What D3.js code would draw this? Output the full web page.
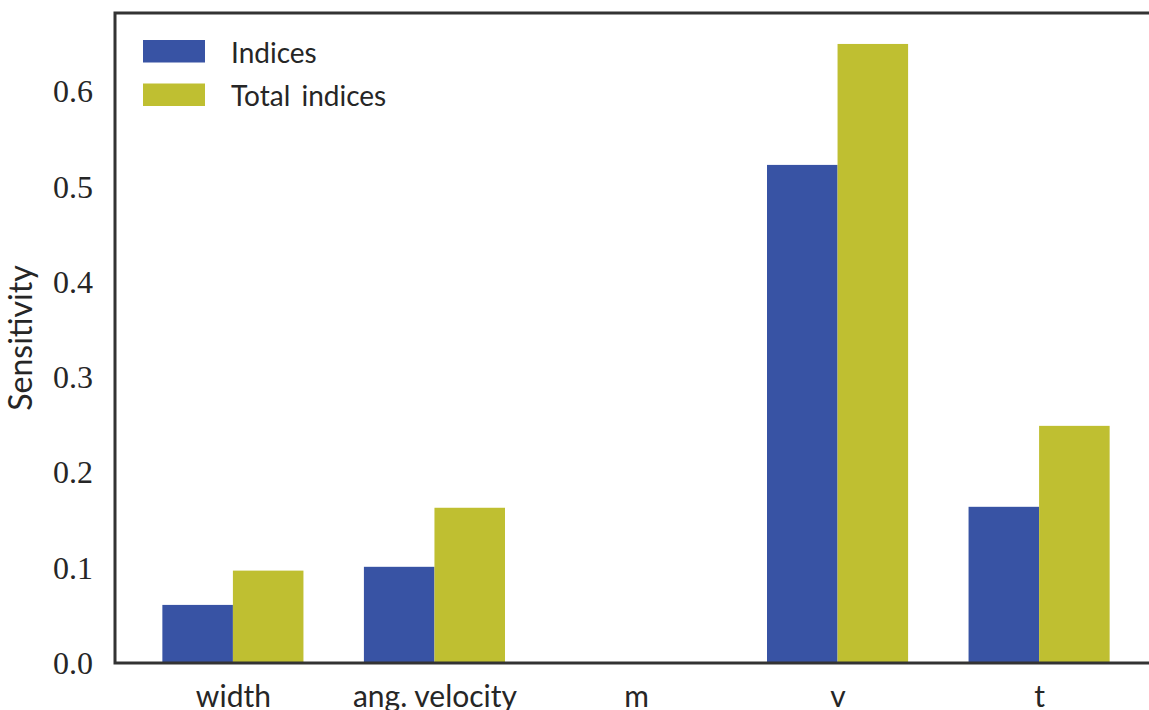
<!DOCTYPE html>
<html>
<head>
<meta charset="utf-8">
<script src="https://cdn.jsdelivr.net/npm/d3@7"></script>
<style>
  html, body { margin: 0; padding: 0; background: #fff; overflow: hidden; }
  svg { display: block; }
</style>
</head>
<body>
<svg id="chart" width="1149" height="710"></svg>
<script>
// Sensitivity analysis: first-order vs total indices per parameter
const parameters = ["width", "ang. velocity", "m", "v", "t"];
const firstOrder = [0.061, 0.101, 0.0, 0.523, 0.164];
const totalOrder = [0.097, 0.163, 0.0, 0.650, 0.249];
const yTicks = [0.0, 0.1, 0.2, 0.3, 0.4, 0.5, 0.6];
const seriesNames = ["Indices", "Total indices"];
const seriesColors = ["#3853a4", "#bfbf31"];

const barWidth = 0.35;
const svg = d3.select("#chart");
const plot = { left: 115, right: 1157, top: 13, bottom: 663 };

// axis limits with a 5% margin around the data
const span = parameters.length - 1 + 2 * barWidth;
const xMin = -barWidth - 0.05 * span;
const xMax = parameters.length - 1 + barWidth + 0.05 * span;
const x = d3.scaleLinear().domain([xMin, xMax]).range([plot.left, plot.right]);
const yMax = d3.max(totalOrder.concat(firstOrder)) * 1.05;
const y = d3.scaleLinear().domain([0, yMax]).range([plot.bottom, plot.top]);

const series = [firstOrder, totalOrder];

// bars
series.forEach((vals, s) => {
  svg.append("g")
    .selectAll("rect")
    .data(vals)
    .join("rect")
    .attr("x", (d, i) => x(i - barWidth + s * barWidth))
    .attr("width", (d, i) => x(i + s * barWidth) - x(i - barWidth + s * barWidth))
    .attr("y", d => y(d))
    .attr("height", d => y(0) - y(d))
    .attr("fill", seriesColors[s]);
});

// y axis
const yAxis = svg.append("g")
  .attr("transform", `translate(${plot.left},0)`)
  .call(d3.axisLeft(y).tickValues(yTicks).tickFormat(d3.format(".1f")).tickSize(0).tickPadding(22));
yAxis.select(".domain").remove();
yAxis.selectAll("text")
  .attr("font-family", "'Liberation Serif', 'DejaVu Serif', serif")
  .attr("font-size", 32)
  .attr("fill", "#262626");

// x axis
const xAxis = svg.append("g")
  .attr("transform", `translate(0,${plot.bottom})`)
  .call(d3.axisBottom(x).tickValues(d3.range(parameters.length)).tickFormat(i => parameters[i]).tickSize(0).tickPadding(23));
xAxis.select(".domain").remove();
xAxis.selectAll("text")
  .attr("font-family", "Lato, 'Open Sans', sans-serif")
  .attr("font-size", 30)
  .attr("fill", "#262626");

// frame
svg.append("rect")
  .attr("x", plot.left).attr("y", plot.top)
  .attr("width", plot.right - plot.left).attr("height", plot.bottom - plot.top)
  .attr("fill", "none").attr("stroke", "#333").attr("stroke-width", 3);

// y label
svg.append("text")
  .attr("transform", `translate(32,${(plot.top + plot.bottom) / 2}) rotate(-90)`)
  .attr("text-anchor", "middle")
  .attr("font-family", "Lato, 'Open Sans', sans-serif")
  .attr("font-size", 32)
  .attr("fill", "#262626")
  .text("Sensitivity");

// legend
const legend = svg.append("g").attr("transform", "translate(143,40)");
seriesNames.forEach((name, s) => {
  const row = legend.append("g").attr("transform", `translate(0,${s * 43.5})`);
  row.append("rect").attr("width", 62).attr("height", 22.5).attr("fill", seriesColors[s]);
  row.append("text")
    .attr("x", 88).attr("y", 22.5)
    .attr("font-family", "Lato, 'Open Sans', sans-serif")
    .attr("font-size", 28)
    .attr("fill", "#262626")
    .attr("word-spacing", 4)
    .text(name);
});
</script>
</body>
</html>
